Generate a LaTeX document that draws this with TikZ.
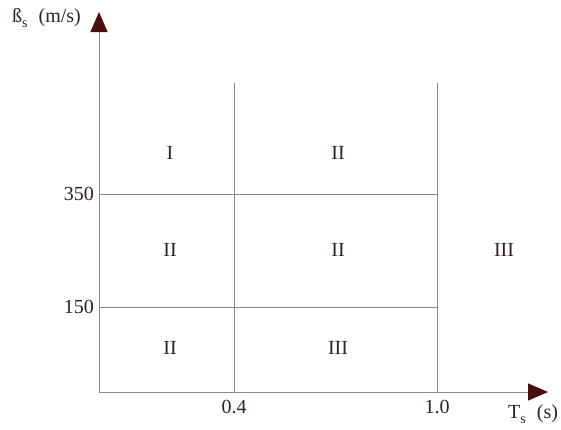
\documentclass[tikz,border=0pt]{standalone}
\usepackage{fontspec}
\setmainfont{Liberation Serif}
\usetikzlibrary{arrows.meta}
\definecolor{gridc}{HTML}{8A8A8A}
\definecolor{headc}{HTML}{4A0C0C}
\definecolor{txtc}{HTML}{2E2222}
\begin{document}
\begin{tikzpicture}[x=1pt,y=-1pt,
  gridline/.style={draw=gridc,line width=0.9pt},
  axisline/.style={draw=gridc,line width=0.9pt,-{Triangle[length=20pt,width=17pt,color=headc]}},
  lbl/.style={text=txtc,font=\fontsize{20}{22}\selectfont,inner sep=0pt},
  zone/.style={text=txtc,font=\fontsize{20}{22}\selectfont,inner sep=0pt}]
\useasboundingbox (0,0) rectangle (561,429);
\coordinate (O) at (99,392);
\coordinate (ytip) at (99,12);
\coordinate (xtip) at (548,392);
\coordinate (v1t) at (234,83);
\coordinate (v1b) at (234,392);
\coordinate (v2t) at (437,83);
\coordinate (v2b) at (437,392);
\coordinate (h1l) at (99,194);
\coordinate (h1r) at (437,194);
\coordinate (h2l) at (99,307);
\coordinate (h2r) at (437,307);
\draw[gridline] (v1t) -- (v1b);
\draw[gridline] (v2t) -- (v2b);
\draw[gridline] (h1l) -- (h1r);
\draw[gridline] (h2l) -- (h2r);
\draw[axisline] (O) -- (ytip);
\draw[axisline] (O) -- (xtip);
% tick labels
\node[lbl,anchor=east] (t350) at (94,194) {350};
\node[lbl,anchor=east] (t150) at (94,307) {150};
\node[lbl] (t04) at (234,407) {0.4};
\node[lbl] (t10) at (437,407) {1.0};
% axis titles
\node[lbl,anchor=west] (xl) at (508,414) {T\raisebox{-0.5ex}{\fontsize{14}{14}\selectfont s}\hspace{0.55em}(s)};
\node[lbl,anchor=west] (yl) at (12,18) {ß\raisebox{-0.5ex}{\fontsize{14}{14}\selectfont s}\hspace{0.55em}(m/s)};
% zones
\node[zone] (z1) at (170,153) {I};
\node[zone] (z2) at (338,153) {II};
\node[zone] (z3) at (170,250) {II};
\node[zone] (z4) at (338,250) {II};
\node[zone] (z5) at (504,250) {III};
\node[zone] (z6) at (170,348) {II};
\node[zone] (z7) at (338,348) {III};
\end{tikzpicture}
\end{document}
